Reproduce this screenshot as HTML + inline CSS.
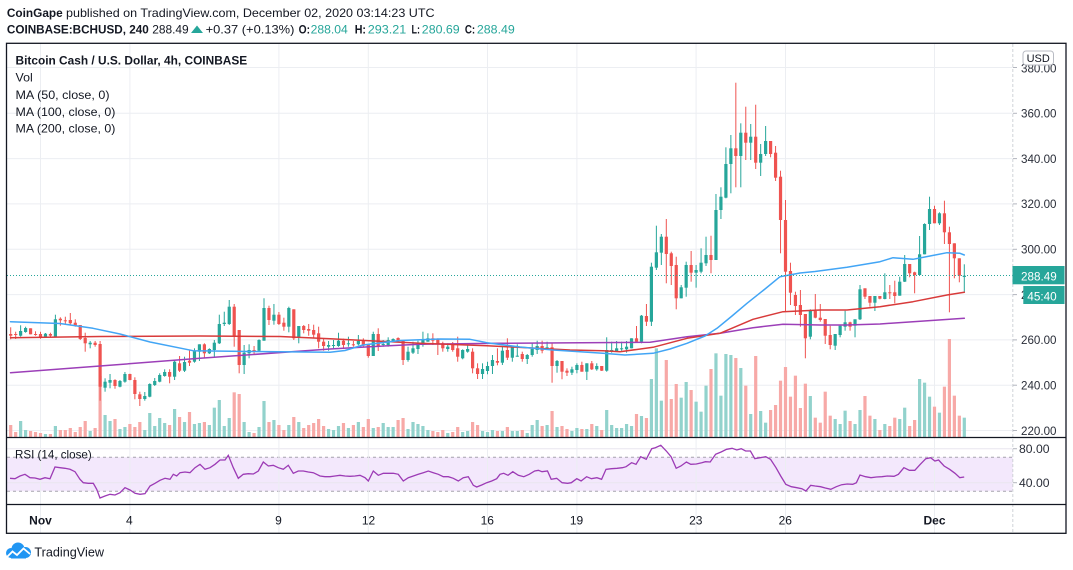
<!DOCTYPE html>
<html><head><meta charset="utf-8"><style>
html,body{margin:0;padding:0;background:#fff;width:1073px;height:570px;overflow:hidden}
svg{display:block}
</style></head><body>
<svg id="c" width="1073" height="570" viewBox="0 0 1073 570" xmlns="http://www.w3.org/2000/svg" font-family="'Liberation Sans', Arial, sans-serif" font-size="12">
<defs>
<clipPath id="mainclip"><rect x="7" y="44" width="1005.5" height="393"/></clipPath>
<clipPath id="rsiclip"><rect x="7" y="438" width="1005.5" height="66"/></clipPath>
</defs>
<rect x="0" y="0" width="1073" height="570" fill="#fff"/>
<!-- header -->
<text x="6.9" y="17" font-weight="bold" fill="#131722" textLength="55.8" lengthAdjust="spacingAndGlyphs">CoinGape</text>
<text x="66" y="17" fill="#131722" textLength="368.6" lengthAdjust="spacingAndGlyphs">published on TradingView.com, December 02, 2020 03:14:23 UTC</text>
<text x="6.9" y="33.4" font-weight="bold" fill="#131722" textLength="141.9" lengthAdjust="spacingAndGlyphs">COINBASE:BCHUSD, 240</text>
<text x="152.2" y="33.4" fill="#131722" textLength="36.5" lengthAdjust="spacingAndGlyphs">288.49</text>
<polygon points="191,33 203,33 197,25.5" fill="#26a69a"/>
<text x="205.6" y="33.4" fill="#131722" textLength="88.8" lengthAdjust="spacingAndGlyphs">+0.37 (+0.13%)</text>
<text x="298.6" y="33.4" font-weight="bold" fill="#131722" textLength="11.4" lengthAdjust="spacingAndGlyphs">O:</text>
<text x="310.6" y="33.4" fill="#26a69a" textLength="37.2" lengthAdjust="spacingAndGlyphs">288.04</text>
<text x="354.7" y="33.4" font-weight="bold" fill="#131722" textLength="11.3" lengthAdjust="spacingAndGlyphs">H:</text>
<text x="367.8" y="33.4" fill="#26a69a" textLength="38.5" lengthAdjust="spacingAndGlyphs">293.21</text>
<text x="411.5" y="33.4" font-weight="bold" fill="#131722" textLength="8.5" lengthAdjust="spacingAndGlyphs">L:</text>
<text x="421.8" y="33.4" fill="#26a69a" textLength="37.9" lengthAdjust="spacingAndGlyphs">280.69</text>
<text x="464.9" y="33.4" font-weight="bold" fill="#131722" textLength="10.3" lengthAdjust="spacingAndGlyphs">C:</text>
<text x="476.9" y="33.4" fill="#26a69a" textLength="37.9" lengthAdjust="spacingAndGlyphs">288.49</text>

<!-- grid -->
<g stroke="#eceef2" stroke-width="1">
<line x1="7" x2="1012.8" y1="67.5" y2="67.5"/>
<line x1="7" x2="1012.8" y1="113.3" y2="113.3"/>
<line x1="7" x2="1012.8" y1="158.6" y2="158.6"/>
<line x1="7" x2="1012.8" y1="203.9" y2="203.9"/>
<line x1="7" x2="1012.8" y1="249.3" y2="249.3"/>
<line x1="7" x2="1012.8" y1="294.6" y2="294.6"/>
<line x1="7" x2="1012.8" y1="339.9" y2="339.9"/>
<line x1="7" x2="1012.8" y1="385.2" y2="385.2"/>
<line x1="7" x2="1012.8" y1="430.5" y2="430.5"/>
</g>
<!-- RSI band -->
<rect x="7" y="457.2" width="1005.8" height="34" fill="#f3e8fc"/>
<g stroke="#e9e6ef" stroke-width="1">
<line x1="7" x2="1012.8" y1="448.7" y2="448.7"/>
<line x1="7" x2="1012.8" y1="482.7" y2="482.7"/>
</g>
<g stroke="#a6a3ad" stroke-width="1" stroke-dasharray="3,3">
<line x1="7" x2="1012.8" y1="457.2" y2="457.2"/>
<line x1="7" x2="1012.8" y1="491.2" y2="491.2"/>
</g>
<g stroke="#eceef2" stroke-width="1">
<line x1="40.5" x2="40.5" y1="44" y2="533"/>
<line x1="129.9" x2="129.9" y1="44" y2="533"/>
<line x1="278.9" x2="278.9" y1="44" y2="533"/>
<line x1="368.3" x2="368.3" y1="44" y2="533"/>
<line x1="487.5" x2="487.5" y1="44" y2="533"/>
<line x1="576.9" x2="576.9" y1="44" y2="533"/>
<line x1="696.1" x2="696.1" y1="44" y2="533"/>
<line x1="785.5" x2="785.5" y1="44" y2="533"/>
<line x1="934.5" x2="934.5" y1="44" y2="533"/>
</g>

<g id="vol" clip-path="url(#mainclip)"></g>
<g id="cand" clip-path="url(#mainclip)"></g>
<g id="ma" clip-path="url(#mainclip)" fill="none" stroke-linejoin="round" stroke-linecap="round"></g>
<line x1="7" x2="1012.8" y1="275.5" y2="275.5" stroke="#26a69a" stroke-width="1" stroke-dasharray="1,2"/>
<g id="rsi" clip-path="url(#rsiclip)" fill="none"></g>

<!-- legend -->
<text x="15.5" y="64.5" font-weight="bold" fill="#131722" textLength="231.7" lengthAdjust="spacingAndGlyphs">Bitcoin Cash / U.S. Dollar, 4h, COINBASE</text>
<text x="15.5" y="81.5" fill="#131722" textLength="17.2" lengthAdjust="spacingAndGlyphs">Vol</text>
<text x="15.5" y="98.8" fill="#131722" textLength="94" lengthAdjust="spacingAndGlyphs">MA (50, close, 0)</text>
<text x="15.5" y="115.8" fill="#131722" textLength="99.9" lengthAdjust="spacingAndGlyphs">MA (100, close, 0)</text>
<text x="15.5" y="132.5" fill="#131722" textLength="99.9" lengthAdjust="spacingAndGlyphs">MA (200, close, 0)</text>
<text x="15" y="458.6" fill="#131722" textLength="76.7" lengthAdjust="spacingAndGlyphs">RSI (14, close)</text>

<!-- price axis -->
<line x1="1012.8" x2="1012.8" y1="44" y2="533" stroke="#cfd2d8" stroke-width="1" stroke-dasharray="3,2"/>
<g stroke="#b2b5be" stroke-width="1">
<line x1="1013" x2="1017" y1="67.5" y2="67.5"/><line x1="1013" x2="1017" y1="113.3" y2="113.3"/>
<line x1="1013" x2="1017" y1="158.6" y2="158.6"/><line x1="1013" x2="1017" y1="203.9" y2="203.9"/>
<line x1="1013" x2="1017" y1="249.3" y2="249.3"/><line x1="1013" x2="1017" y1="294.6" y2="294.6"/>
<line x1="1013" x2="1017" y1="339.9" y2="339.9"/><line x1="1013" x2="1017" y1="385.2" y2="385.2"/>
<line x1="1013" x2="1017" y1="430.5" y2="430.5"/><line x1="1013" x2="1017" y1="448.7" y2="448.7"/>
<line x1="1013" x2="1017" y1="482.7" y2="482.7"/>
</g>
<g fill="#2a2e39">
<text x="1021" y="72.3" textLength="35.5" lengthAdjust="spacingAndGlyphs">380.00</text>
<text x="1021" y="117.6" textLength="35.5" lengthAdjust="spacingAndGlyphs">360.00</text>
<text x="1021" y="162.9" textLength="35.5" lengthAdjust="spacingAndGlyphs">340.00</text>
<text x="1021" y="208.2" textLength="35.5" lengthAdjust="spacingAndGlyphs">320.00</text>
<text x="1021" y="253.6" textLength="35.5" lengthAdjust="spacingAndGlyphs">300.00</text>
<text x="1021" y="298.9" textLength="35.5" lengthAdjust="spacingAndGlyphs">280.00</text>
<text x="1021" y="344.2" textLength="35.5" lengthAdjust="spacingAndGlyphs">260.00</text>
<text x="1021" y="389.5" textLength="35.5" lengthAdjust="spacingAndGlyphs">240.00</text>
<text x="1021" y="434.8" textLength="35.5" lengthAdjust="spacingAndGlyphs">220.00</text>
<text x="1019" y="453" textLength="30.5" lengthAdjust="spacingAndGlyphs">80.00</text>
<text x="1019" y="487" textLength="30.5" lengthAdjust="spacingAndGlyphs">40.00</text>
</g>
<rect x="1023" y="51" width="30.5" height="14" rx="3" fill="#fff" stroke="#b8bbc3" stroke-width="1"/>
<text x="1038.2" y="62" text-anchor="middle" font-size="11" fill="#131722">USD</text>
<rect x="1012.5" y="266" width="52" height="18.3" fill="#26a69a"/>
<text x="1021" y="280.5" fill="#fff" textLength="35.7" lengthAdjust="spacingAndGlyphs">288.49</text>
<rect x="1023.3" y="286" width="41.2" height="18" fill="#26a69a"/>
<text x="1027.3" y="300.3" fill="#fff" textLength="29.4" lengthAdjust="spacingAndGlyphs">45:40</text>

<!-- time axis -->
<g fill="#131722" text-anchor="middle">
<text x="40.5" y="524.3" font-weight="bold">Nov</text>
<text x="129.3" y="524.3">4</text>
<text x="278.5" y="524.3">9</text>
<text x="368.5" y="524.3">12</text>
<text x="487.3" y="524.3">16</text>
<text x="576.5" y="524.3">19</text>
<text x="695.8" y="524.3">23</text>
<text x="785.3" y="524.3">26</text>
<text x="934.5" y="524.3" font-weight="bold">Dec</text>
</g>

<!-- frame -->
<g stroke="#131722" stroke-width="1.3" fill="none">
<rect x="6.5" y="43.3" width="1059.5" height="490"/>
<line x1="6.5" x2="1066" y1="437.5" y2="437.5"/>
<line x1="6.5" x2="1066" y1="504.5" y2="504.5"/>
</g>

<!-- footer logo -->
<g>
<circle cx="11" cy="553" r="5" fill="#2196f3"/>
<circle cx="18" cy="549" r="6.5" fill="#2196f3"/>
<circle cx="25.5" cy="552.5" r="5.5" fill="#2196f3"/>
<rect x="11" y="552" width="15" height="6.5" fill="#2196f3"/>
<polyline points="7,557 12.5,551.5 17,555 23.5,548.5 30,554" fill="none" stroke="#fff" stroke-width="1.8"/>
</g>
<text x="34.4" y="556.3" font-size="13" fill="#131722" textLength="69.6" lengthAdjust="spacingAndGlyphs">TradingView</text>
</svg>
<script>
(function(){
var NS='http://www.w3.org/2000/svg';
function add(g,tag,a){var e=document.createElementNS(NS,tag);for(var k in a)e.setAttribute(k,a[k]);g.appendChild(e);return e;}
function X(i){return 40.5+(i-6)*29.8/6;}
var CD=[
[0,334,335.7,327.3,339.3],[0,334,334.7,331.7,339],[1,331,335.7,325.3,336.7],[1,328,332,326.7,332.7],[0,328.3,334.3,328.3,334.3],
[0,334,334.7,331.3,335.7],[0,334,337.3,331.7,338.7],[1,333.7,336.7,333,337.3],[0,334,335.7,332.7,336.7],[1,319.3,337.3,314.7,337.3],
[0,318.7,320.3,317.3,325.7],[0,320.3,321,316.7,324.7],[0,320,323.3,313,325],[0,322.7,325.7,319.3,326.7],[0,325,339,325,340],
[0,338,343.3,332.7,351.7],[1,342.7,344.3,341,348.3],[0,342.7,345,341,346.7],[0,344,386.7,341,400.7],[1,381.7,387.7,378.3,391.7],
[1,380,382.7,374,388.3],[0,380,386,379.3,388.7],[1,381,386.7,380,387.3],[1,374,381.7,372,382.7],[0,374,380,373.7,380.3],
[0,380,394,377.3,399.3],[0,394.3,399,391.7,406],[1,396,399,392,400.7],[1,384,396.7,383.3,397.3],[1,381,385,378,386],
[1,375,381.7,373.3,382.3],[1,372,376,369.3,376.7],[0,372,376.7,369.3,383.3],[1,361.7,376.7,360,380],[0,363.3,370.7,356,372],
[1,362,370.7,356.7,372],[0,360.7,362.7,350,366],[1,351,361.7,348.3,362.7],[1,344.3,351.7,344.3,361],[0,344.3,353.3,343.3,358.3],
[1,349,353.3,348.3,354],[1,342.7,350,340,356.7],[1,324,343.3,314.7,344],[1,322.7,324,311.7,326],[1,306.7,324,300,325],
[0,306.7,336.7,304,346.7],[0,330,365,330,373.3],[1,352.7,365,345,374],[1,350,353.3,344.3,358.3],[0,350,351.7,346,354],
[1,340,350.7,339.3,351.7],[1,308,340.7,298.3,340.7],[0,308,320,305.7,325],[1,314.7,320.7,304,324.7],[0,314.7,324,312,325],
[0,322.7,326.7,317.7,330.7],[1,308,326.7,306.7,332.3],[0,309.3,338.3,309.3,340],[1,326,337.3,326,343.3],[0,326,330,325,333.3],
[0,329,330.7,324,335.7],[0,330,334.7,324.7,338.3],[0,333.3,341.7,326.7,348.3],[0,341.7,346,338.3,350.7],[1,345,346.7,341,350.7],
[1,345,345.7,340,349.3],[1,340.7,346,332.7,346.7],[0,340.7,345,338.7,348.3],[1,343.3,344,336.7,346.7],[0,344.3,345,341,346.7],
[1,341,344.3,335,345.3],[0,341,345.7,338.3,346.7],[0,345,356,345,357.7],[1,334,356,331.7,356],[0,334,346.7,328.3,351],
[1,344,344.7,340,346.7],[1,340,345,337.3,346.7],[1,339,341,338.3,341.7],[0,338,341,337.3,342],[0,340,360,340,365],
[1,351.7,360,346.7,361.7],[1,348.3,352.7,341.7,354],[1,343.3,349,340.7,354],[1,340,345,331.7,346.7],[1,338.3,341.7,333.3,341.7],
[0,338.3,340.7,333.3,345],[0,339.3,344,338.3,355],[0,343.3,348.3,341.7,351.7],[1,346.7,349,343.3,351.7],[0,344.3,350,342,351.7],
[0,348.3,356.7,336.7,361.7],[1,350,358.3,349.3,359.3],[1,349,351.7,345,352.7],[0,351.7,368.3,348.3,373.3],[0,368.3,374,363.3,379],
[1,369,374,363.3,379],[1,366,371,361.7,374.3],[1,360,366,355,374],[0,361,362.7,348.3,365.3],[1,350.7,362.7,346.7,365],
[0,350,357.7,338.3,360],[1,347.3,357.7,346.7,361.7],[1,355.7,356.7,344.3,356.7],[0,354,359,351.7,361.7],[1,355,359,354,364],
[1,349,355,343.3,356.7],[1,346,350,340.7,354],[0,346,350.7,340.7,353.3],[1,347.3,348.3,341.7,349.3],[0,347.3,366,343.3,382.7],
[1,361,366,360,372.7],[0,361,371.7,361,379.3],[0,370.7,372.7,368.3,376],[1,369.3,372.7,366.7,375],[1,365,370,363.3,373.3],
[0,365,371.7,361.7,371.7],[1,363.3,371.7,363.3,380],[0,363.3,369.3,361,370],[1,366,369.3,363.3,370.7],[0,366,370.7,366,371],
[1,350,370.7,337.3,371.7],[1,350,351.7,341.7,352.7],[1,348.3,351.7,341,352],[1,348.3,349,341.7,350.7],[1,346.7,349.3,341,352.7],
[1,338.3,348.3,338.3,348.3],[0,338.3,341.7,326,342.7],[1,315.7,341.7,315,343.3],[0,316,321.7,304,326],[1,266.7,321.7,262.7,326],
[1,252.3,267.7,225.7,270],[1,236.7,252.7,234,265],[0,236.7,254,219,283.3],[0,253.3,266,251.7,285],[0,265,298.3,256.7,309.3],
[1,287.3,298.3,285,298.3],[1,265,287.7,261.7,296.7],[0,265,272.7,251,281.7],[1,270,272.7,265,287.7],[1,262.7,271.7,248.3,273.3],
[1,255,263.3,236.7,266],[0,255,260,235.7,273.3],[1,210,260,194,260],[1,196.7,210,187.3,219],[1,164,197.7,147.3,198.3],
[1,148.3,164,135,193.3],[0,148.3,156,82.7,187.3],[1,132.7,156,123.3,187.3],[0,132.7,142.7,106.7,160],[1,136.7,142.7,124,160],
[0,136.7,162.7,104.7,169],[1,154,162.7,144,176],[1,141,154,126,156],[0,141,154,141,157.3],[0,152.7,177.7,146,181],
[0,176.7,220,170.7,253.3],[0,220,271.7,200,311.7],[0,271,292.7,262.7,305],[0,295,306,291.7,315],[0,305,315,290,326.7],
[0,314,338.3,314,358.3],[1,311,336.7,309.3,339.3],[0,311,317.7,294,318.3],[0,317.7,320,304,321.7],[0,319,335.7,319,344],
[0,335,345,325.7,349.3],[1,334,345.7,334,350],[1,325.7,335,325.7,337.3],[1,322.3,326.7,310.7,330.7],[0,322.3,326.7,321.7,330.7],
[1,319.3,325.7,319.3,337.3],[1,289.3,319.3,285,320],[0,288.3,296.7,288.3,299],[0,296,302.7,296,306.7],[1,296,302.7,296,311],
[0,296,298.7,296,299.3],[1,292.3,299,273.3,299.3],[0,292.3,293,285,299],[0,292.3,296,280.7,303.3],[1,281.7,295.7,276.7,295.7],
[1,264,281.7,255,282],[0,264,273.3,264,277.3],[0,272.3,275,271.7,293.3],[1,254.3,275,236,275],[1,224,254.3,223.3,254.3],
[1,209,224,196.7,230],[0,209,223.3,205.7,223.3],[1,213.3,223.3,212.3,225],[0,213.3,232.3,200.7,244],[0,232.3,244,226.7,312.3],
[0,243.3,258.3,243.3,278.3],[0,258.3,275.7,258.3,282.3],[1,275.7,277,264.3,292.3]
];
var V5=[435,456,423,450,453,456,459,462,462,438,450,450,444,456,441,423,453,444,288,405,423,417,447,441,432,441,426,450,399,438,414,429,435,387,411,426,396,432,429,426,435,383,360,438,414,337,342,426,456,459,441,363,426,420,435,450,435,411,426,444,435,429,417,438,447];
var V6=[450,438,429,444,435,426,441,417,444,441,429,441,441,420,414,447,426,432,438,450,453,456,450,459,456,441,456,453,426,435,453,456,450,453,453,441,453,453,450,459,435,420,438,435,393,441,438,447,453,444,447,447,432,438,450,390,435,444,444,432,438,402,408,414];
var V9=[147,55,212,90,207,162,203,156,180,215,245,167,117,70,197,72,75,84,114,167,252,78,243,278,240,225,152,111,200,137,234,161,198,263,278,185,257,267,282,242,273,282,240,198,257,267,300,282,288,263,267,233,288,270,147,158,200,230,248,170,27,197,257,263];
var VT=[];
V5.forEach(function(v){VT.push(280+v/3);});
V6.forEach(function(v){VT.push(280+v/3);});
V9.forEach(function(v){VT.push(330+v/3);});
var gv=document.getElementById('vol'),gc=document.getElementById('cand');
var BOT=437.5;
for(var i=0;i<CD.length;i++){
  var d=CD[i],x=X(i);
  if(i<VT.length){var t=VT[i];add(gv,'rect',{x:(x-1.6).toFixed(2),y:t.toFixed(2),width:3.2,height:(BOT-t).toFixed(2),fill:d[0]?'#92d2cc':'#f7a9a7'});}
  var col=d[0]?'#26a69a':'#ef5350';
  add(gc,'line',{x1:x.toFixed(2),x2:x.toFixed(2),y1:d[3],y2:d[4],stroke:col,'stroke-width':1});
  var h=Math.max(1,d[2]-d[1]);
  add(gc,'rect',{x:(x-1.6).toFixed(2),y:d[1],width:3.2,height:h.toFixed(2),fill:col});
}
var gm=document.getElementById('ma');
function pl(g,pts,col,w){add(g,'polyline',{points:pts.map(function(p){return p[0].toFixed(1)+','+p[1].toFixed(1);}).join(' '),stroke:col,'stroke-width':w,fill:'none'});}
pl(gm,[[10.5,372.7],[100,366],[200,358.3],[330,349],[370,346.7],[420,344.3],[500,343.3],[650,342.3],[687,336.7],[720,333.3],[753,327.7],[783,324.3],[820,325],[847,325],[880,324],[913,321.7],[964.3,318.3]],'#9c3fb8',1.5);
pl(gm,[[10.5,337.7],[100,336.5],[200,336],[280,336.5],[330,338.7],[420,343.3],[487,345.7],[570,350],[603,350.7],[620,351.7],[653,347.3],[687,338.3],[720,333.3],[753,319.3],[783,311.7],[820,310],[847,310],[880,306.7],[913,301.7],[947,295],[964.3,292.3]],'#d83a3a',1.5);
pl(gm,[[10.5,321.7],[60,323.5],[93,328.3],[120,334],[150,342],[193,350.7],[250,351.5],[330,352.3],[345,350.5],[363,345],[400,340.5],[440,339],[470,339.3],[487,342.7],[520,347],[553,350],[603,353.3],[625,355],[653,353.3],[670,349],[687,343.3],[705,336],[717,328.3],[732,316],[747,303.3],[765,289],[780,276.7],[800,273],[815,271.5],[847,267.3],[880,261.7],[893,257.7],[913,259.3],[930,256],[947,252.7],[960,253.3],[964.3,255]],'#42a5f5',1.5);
var R10=[[30,127],[45,128],[60,120],[75,115],[90,125],[105,126],[120,130],[135,125],[150,128],[165,93],[180,95],[195,97],[210,100],[225,107],[240,130],[250,140],[265,142],[280,142],[290,160],[300,186],[315,180],[330,175],[345,177],[360,170],[375,155],[390,162],[405,172],[420,175],[435,173],[450,150],[465,142],[480,133],[495,127],[510,130],[520,115],[530,120],[540,110],[555,108],[570,110],[585,95],[600,85],[615,100],[630,95],[645,85],[660,72],[675,72],[685,58],[700,95],[715,127],[730,115],[745,113],[760,114],[775,105],[790,78],[805,90],[820,88],[835,95],[850,100],[865,88],[880,112],[895,105],[910,105],[925,108],[940,110],[960,120],[975,122],[990,122],[1005,120],[1020,118],[1035,120],[1050,121],[1065,120],[1080,118],[1095,125],[1105,135],[1120,105],[1135,118],[1150,112],[1165,112],[1180,112],[1195,115],[1210,135],[1225,125],[1240,120],[1255,115],[1270,110],[1285,105],[1300,110],[1315,115],[1330,122],[1345,122],[1360,127],[1375,135],[1390,125],[1405,122],[1420,148],[1430,153],[1445,147],[1460,140],[1475,135],[1490,128]];
var R11=[[0,115],[10,112],[22,118],[35,107],[50,118],[65,122],[80,115],[95,105],[105,103],[115,107],[130,105],[140,130],[155,127],[170,140],[185,142],[195,140],[210,128],[222,135],[237,122],[250,128],[265,125],[278,130],[290,100],[305,98],[320,97],[335,95],[345,92],[360,80],[372,85],[385,62],[400,70],[415,38],[425,35],[440,28],[455,45],[468,62],[482,97],[495,90],[510,78],[522,85],[537,84],[552,80],[562,77],[575,78],[590,55],[605,48],[620,40],[635,37],[648,42],[660,38],[672,45],[685,45],[697,68],[712,65],[727,62],[740,70],[755,95],[768,120],[782,145],[797,152],[812,155],[826,158],[837,165],[850,148],[862,150],[877,152],[890,156],[905,160],[920,152],[935,146],[950,144],[965,145],[975,140],[985,117],[1000,122],[1015,125],[1030,123],[1045,122],[1060,120],[1078,121],[1090,115],[1105,95],[1120,103],[1135,103],[1150,85],[1165,68],[1178,65],[1190,75],[1200,72],[1215,90],[1230,100],[1245,112],[1258,125],[1270,123]];
var rp=[];
R10.forEach(function(p){rp.push([p[0]/3,436+p[1]/3]);});
R11.forEach(function(p){rp.push([500+p[0]/2.736,436+p[1]/3]);});
pl(document.getElementById('rsi'),rp,'#9c3bb5',1.3);
})();
</script>
</body></html>
